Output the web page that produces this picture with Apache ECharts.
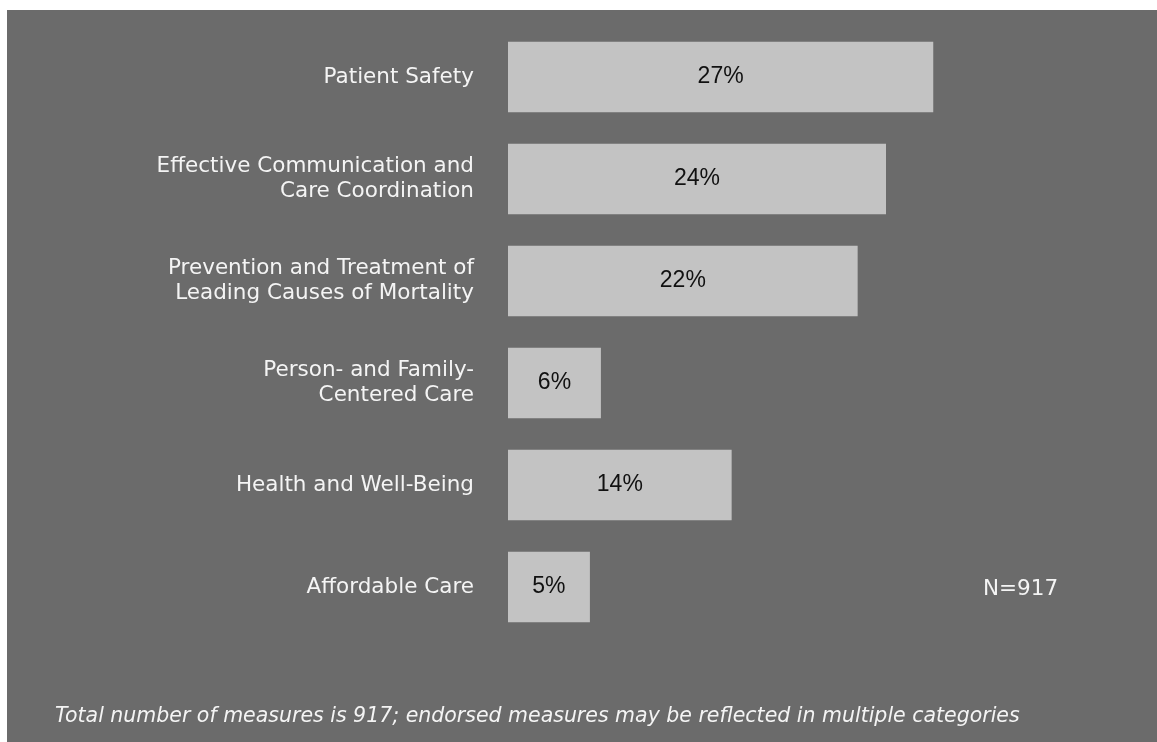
<!DOCTYPE html>
<html>
<head>
<meta charset="utf-8">
<script src="https://cdn.jsdelivr.net/npm/echarts@6/dist/echarts.min.js"></script>
<style>
html,body{margin:0;padding:0;background:#ffffff;width:1157px;height:742px;overflow:hidden;}
#chart{position:absolute;left:7px;top:10px;width:1150px;height:732px;}
</style>
</head>
<body>
<div id="chart"></div>
<script>
const categories = [
  "Patient Safety",
  "Effective Communication and\nCare Coordination",
  "Prevention and Treatment of\nLeading Causes of Mortality",
  "Person- and Family-\nCentered Care",
  "Health and Well-Being",
  "Affordable Care"
];
const values = [27, 24, 22.2, 5.9, 14.2, 5.2];
const valueLabels = ["27%", "24%", "22%", "6%", "14%", "5%"];
const noteText = "N=917";
const footnote = "Total number of measures is 917; endorsed measures may be reflected in multiple categories";

const chart = echarts.init(document.getElementById('chart'), null, {renderer: 'canvas'});
chart.setOption({
  backgroundColor: '#6b6b6b',
  animation: false,
  grid: {left: 501, top: 16, width: 472.5, height: 612, containLabel: false},
  xAxis: {
    type: 'value', min: 0, max: 30, show: false
  },
  yAxis: {
    type: 'category', data: categories, inverse: true,
    axisLine: {show: false}, axisTick: {show: false}, splitLine: {show: false},
    axisLabel: {
      color: '#f4f4f4', fontSize: 21.5, fontFamily: 'DejaVu Sans', margin: 34,
      lineHeight: 25, align: 'right'
    }
  },
  series: [{
    type: 'bar',
    data: values,
    barCategoryGap: '31%',
    itemStyle: {color: '#c3c3c3'},
    label: {
      show: true, position: 'inside', color: '#111111', fontSize: 23,
      fontFamily: 'Liberation Sans',
      formatter: p => valueLabels[p.dataIndex]
    }
  }],
  graphic: [
    {type: 'text', left: 976, top: 568, style: {text: noteText, fill: '#f4f4f4', font: '21.5px "DejaVu Sans"'}},
    {type: 'text', left: 48, top: 697, style: {text: footnote, fill: '#f4f4f4', font: 'italic 20.5px "DejaVu Sans"'}}
  ]
});
</script>
</body>
</html>
